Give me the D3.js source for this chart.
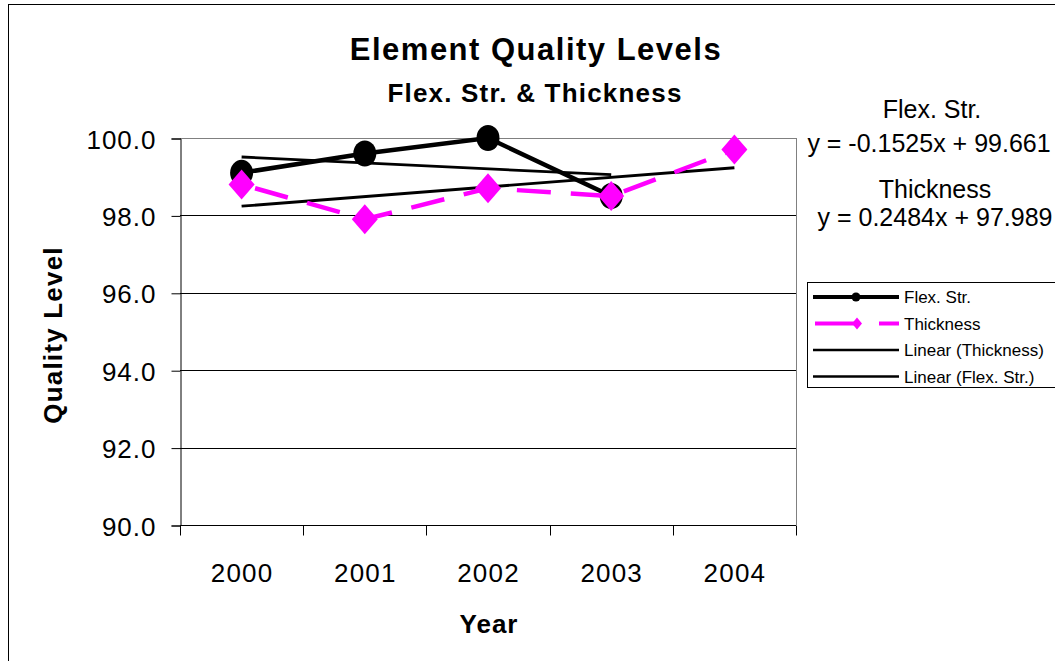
<!DOCTYPE html>
<html>
<head>
<meta charset="utf-8">
<script src="https://cdn.jsdelivr.net/npm/d3@7"></script>
<style>
  body { margin: 0; background: #fff; }
  text { font-family: "Liberation Sans", Arial, sans-serif; fill: #000; }
</style>
</head>
<body>
<svg id="chart" width="1055" height="661"></svg>
<script>
// data
const years = ["2000", "2001", "2002", "2003", "2004"];
const flexStr = [99.1, 99.6, 100.0, 98.5, null];
const thickness = [98.8, 97.9, 98.7, 98.5, 99.7];
const yTicks = [90, 92, 94, 96, 98, 100];
// trendline coefficients as printed on the chart (x = 1..n)
const flexTrend = { slope: -0.1525, intercept: 99.661, n: 4 };
const thickTrend = { slope: 0.2484, intercept: 97.989, n: 5 };

const svg = d3.select("#chart");
const plot = { left: 180, right: 796, top: 138, bottom: 525 };

// outer chart frame
svg.append("rect")
  .attr("x", 8.5).attr("y", 4.5)
  .attr("width", 1100).attr("height", 700)
  .attr("fill", "none").attr("stroke", "#000").attr("stroke-width", 1);

var x = d3.scaleBand().domain(years).range([plot.left, plot.right]);
var y = d3.scaleLinear().domain([90, 100]).range([plot.bottom, plot.top]);

// gridlines + plot frame
svg.append("g")
  .selectAll("line")
  .data(yTicks)
  .join("line")
  .attr("x1", plot.left).attr("x2", plot.right)
  .attr("y1", function (d) { return Math.round(y(d)) + 0.5; })
  .attr("y2", function (d) { return Math.round(y(d)) + 0.5; })
  .attr("stroke", function (d) { return d === 100 ? "#808080" : "#000"; })
  .attr("stroke-width", 1);
svg.append("line")
  .attr("x1", plot.right + 0.5).attr("x2", plot.right + 0.5)
  .attr("y1", plot.top).attr("y2", plot.bottom)
  .attr("stroke", "#808080");

// y axis
var yAxis = d3.axisLeft(y).tickValues(yTicks).tickSize(9).tickPadding(15)
  .tickFormat(d3.format(".1f"));
var gy = svg.append("g")
  .attr("transform", "translate(" + (plot.left + 0.5) + ",0.5)")
  .call(yAxis);
gy.select(".domain").attr("stroke", "#000");
gy.selectAll("text")
  .attr("font-family", null)
  .style("font-size", "26px").style("letter-spacing", "1px")
  .attr("dy", "0.37em");

// x axis, ticks between categories
var gx = svg.append("g").attr("transform", "translate(0," + (plot.bottom + 0.5) + ")");
gx.append("line")
  .attr("x1", plot.left).attr("x2", plot.right)
  .attr("stroke", "#000");
var boundaries = years.map(function (d) { return x(d); }).concat([plot.right]);
gx.selectAll("line.tick")
  .data(boundaries)
  .join("line")
  .attr("class", "tick")
  .attr("x1", function (d) { return Math.round(d) + 0.5; })
  .attr("x2", function (d) { return Math.round(d) + 0.5; })
  .attr("y1", 0).attr("y2", 10)
  .attr("stroke", "#000");
gx.selectAll("text")
  .data(years)
  .join("text")
  .attr("x", function (d) { return x(d) + x.bandwidth() / 2 + 0.5; })
  .attr("y", 56)
  .attr("text-anchor", "middle")
  .style("font-size", "26px").style("letter-spacing", "1.2px")
  .text(function (d) { return d; });

function cx(i) { return x(years[i]) + x.bandwidth() / 2; }

// trendlines
function trendLine(t) {
  svg.append("line")
    .attr("x1", cx(0)).attr("y1", y(t.intercept + t.slope * 1))
    .attr("x2", cx(t.n - 1)).attr("y2", y(t.intercept + t.slope * t.n))
    .attr("stroke", "#000").attr("stroke-width", 2.8);
}
trendLine(flexTrend);
trendLine(thickTrend);

// Flex. Str. series
var seriesLine = d3.line()
  .defined(function (d) { return d != null; })
  .x(function (d, i) { return cx(i); })
  .y(function (d) { return y(d); });
svg.append("path")
  .datum(flexStr)
  .attr("d", seriesLine)
  .attr("fill", "none").attr("stroke", "#000").attr("stroke-width", 4.5);
svg.append("g")
  .selectAll("ellipse")
  .data(flexStr.map(function (d, i) { return { v: d, i: i }; }).filter(function (d) { return d.v != null; }))
  .join("ellipse")
  .attr("cx", function (d) { return cx(d.i); })
  .attr("cy", function (d) { return y(d.v); })
  .attr("rx", 11.5).attr("ry", 13)
  .attr("fill", "#000");

// Thickness series
svg.append("path")
  .datum(thickness)
  .attr("d", seriesLine)
  .attr("fill", "none").attr("stroke", "#ff00ff").attr("stroke-width", 4.5)
  .attr("stroke-dasharray", "34,20").attr("stroke-dashoffset", -14);
function diamondPath(w, h) {
  return "M0," + (-h) + "L" + w + ",0L0," + h + "L" + (-w) + ",0Z";
}
svg.append("g")
  .selectAll("path")
  .data(thickness)
  .join("path")
  .attr("d", diamondPath(13, 15))
  .attr("transform", function (d, i) { return "translate(" + cx(i) + "," + y(d) + ")"; })
  .attr("fill", "#ff00ff");

// titles
svg.append("text").attr("x", 536).attr("y", 60).attr("text-anchor", "middle")
  .style("font-size", "31px").style("font-weight", "bold").style("letter-spacing", "1.5px")
  .text("Element Quality Levels");
svg.append("text").attr("x", 535).attr("y", 102).attr("text-anchor", "middle")
  .style("font-size", "26px").style("font-weight", "bold").style("letter-spacing", "1.2px")
  .text("Flex. Str. & Thickness");
svg.append("text")
  .attr("transform", "translate(62," + 335 + ") rotate(-90)")
  .attr("text-anchor", "middle")
  .style("font-size", "26px").style("font-weight", "bold").style("letter-spacing", "1.2px")
  .text("Quality Level");
svg.append("text").attr("x", 489).attr("y", 633)
  .attr("text-anchor", "middle")
  .style("font-size", "26px").style("font-weight", "bold").style("letter-spacing", "1px")
  .text("Year");

// trendline equations
var eqs = [
  { t: "Flex. Str.", x: 932, y: 118 },
  { t: "y = -0.1525x + 99.661", x: 929, y: 152 },
  { t: "Thickness", x: 935, y: 198 },
  { t: "y = 0.2484x + 97.989", x: 935, y: 226 }
];
svg.append("g").selectAll("text").data(eqs).join("text")
  .attr("x", function (d) { return d.x; })
  .attr("y", function (d) { return d.y; })
  .attr("text-anchor", "middle")
  .style("font-size", "25px")
  .text(function (d) { return d.t; });

// legend
var lg = svg.append("g").attr("transform", "translate(807,282)");
lg.append("rect").attr("x", 0.5).attr("y", 0.5).attr("width", 300).attr("height", 105)
  .attr("fill", "#fff").attr("stroke", "#000");
var items = [
  { name: "Flex. Str.", kind: "flex" },
  { name: "Thickness", kind: "thick" },
  { name: "Linear (Thickness)", kind: "trend" },
  { name: "Linear (Flex. Str.)", kind: "trend" }
];
items.forEach(function (d, i) {
  var yy = 15 + i * 26.5;
  if (d.kind === "flex") {
    lg.append("line").attr("x1", 6).attr("x2", 92).attr("y1", yy).attr("y2", yy)
      .attr("stroke", "#000").attr("stroke-width", 4);
    lg.append("circle").attr("cx", 49).attr("cy", yy).attr("r", 4.5).attr("fill", "#000");
  } else if (d.kind === "thick") {
    lg.append("line").attr("x1", 8).attr("x2", 92).attr("y1", yy).attr("y2", yy)
      .attr("stroke", "#ff00ff").attr("stroke-width", 4).attr("stroke-dasharray", "45,19");
    lg.append("path").attr("d", diamondPath(5, 6))
      .attr("transform", "translate(50," + yy + ")").attr("fill", "#ff00ff");
  } else {
    lg.append("line").attr("x1", 6).attr("x2", 92).attr("y1", yy).attr("y2", yy)
      .attr("stroke", "#000").attr("stroke-width", 2.5);
  }
  lg.append("text").attr("x", 97).attr("y", yy + 6)
    .style("font-size", "17px").text(d.name);
});
</script>
</body>
</html>
